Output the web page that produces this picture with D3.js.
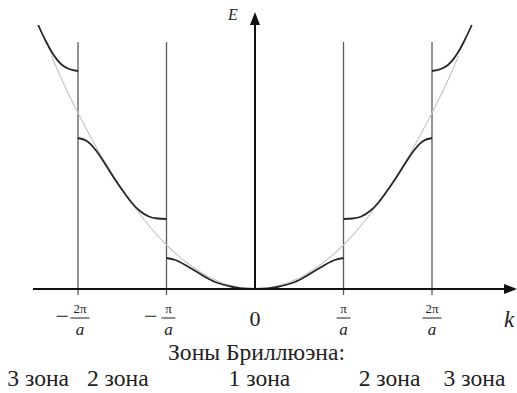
<!DOCTYPE html>
<html>
<head>
<meta charset="utf-8">
<script src="https://cdn.jsdelivr.net/npm/d3@7"></script>
</head>
<body style="margin:0;background:#fff">
<svg id="c" width="517" height="393" style="display:block;font-family:'Liberation Serif', Tinos, serif"></svg>
<script>
// k in units of π/a, E in arbitrary units
const parabK = [0, 0.25, 0.5, 0.75, 1, 1.25, 1.5, 1.75, 2, 2.15, 2.3];
const parabE = [0, 3, 11, 25, 44, 69, 99, 135, 176, 203, 233];

const band1K = [0, 0.15, 0.25, 0.45, 0.5, 0.75, 0.9, 1];
const band1E = [0, 0.5, 2, 7, 9, 22, 29, 31];

const band2K = [1, 1.1, 1.2, 1.3, 1.4, 1.5, 1.6, 1.7, 1.8, 1.9, 2];
const band2E = [70, 70.5, 72.5, 78, 87, 99, 112, 126, 139, 148, 151];

const band3K = [2, 2.1, 2.18, 2.29, 2.37, 2.45];
const band3E = [218, 220, 224, 236, 249, 264];

const zoneLinesK = [-2, -1, 1, 2];
const tickK = [-2, -1, 0, 1, 2];
const tickNum = ["2π", "π", "0", "π", "2π"];
const tickSign = ["−", "−", "", "", ""];

const zoneTitle = "Зоны Бриллюэна:";
const zoneLabels = ["3 зона", "2 зона", "1 зона", "2 зона", "3 зона"];
const zoneLabelK = [-2.45, -1.55, 0.05, 1.52, 2.48];

const svg = d3.select("#c");
svg.append("style").text("text { font-family: 'Liberation Serif', Tinos, serif !important; }");

const x = d3.scaleLinear().domain([-2, 2]).range([78, 432]);
const y = d3.scaleLinear().domain([0, 264]).range([289, 25]);

const line = d3.line().x(d => x(d[0])).y(d => y(d[1])).curve(d3.curveMonotoneX);
const sym = (ks, es) => ks.map((k, i) => [-k, es[i]]).reverse()
  .concat(ks.slice(1).map((k, i) => [k, es[i + 1]]));

// zone boundary lines
svg.selectAll(".zl").data(zoneLinesK).join("line")
  .attr("x1", d => x(d)).attr("x2", d => x(d))
  .attr("y1", 42).attr("y2", 295)
  .attr("stroke", "#5a5a5a").attr("stroke-width", 1.3);

// free electron parabola (gray)
svg.append("path").attr("d", line(sym(parabK, parabE)))
  .attr("fill", "none").attr("stroke", "#c4c4c4").attr("stroke-width", 1.1);

// bands
svg.append("path").attr("d", line(sym(band1K, band1E)))
  .attr("fill", "none").attr("stroke", "#262626").attr("stroke-width", 1.8);
[[band2K, band2E], [band3K, band3E]].forEach(([ks, es]) => {
  const pos = ks.map((k, i) => [k, es[i]]);
  const neg = ks.map((k, i) => [-k, es[i]]).reverse();
  [pos, neg].forEach(pts => {
    svg.append("path").attr("d", line(pts))
      .attr("fill", "none").attr("stroke", "#262626").attr("stroke-width", 1.8);
  });
});

// axes
svg.append("line").attr("x1", 33).attr("x2", 508).attr("y1", y(0)).attr("y2", y(0))
  .attr("stroke", "#111").attr("stroke-width", 2);
svg.append("path").attr("d", `M517,${y(0)} L504,${y(0) - 5} L504,${y(0) + 5} Z`).attr("fill", "#111");
svg.append("line").attr("x1", x(0)).attr("x2", x(0)).attr("y1", y(0)).attr("y2", 22)
  .attr("stroke", "#111").attr("stroke-width", 2);
svg.append("path").attr("d", `M${x(0)},12 L${x(0) - 5},25 L${x(0) + 5},25 Z`).attr("fill", "#111");

// ---- texts
const labels = [];
labels.push({ t: "E", x: 233, y: 20, s: 16, it: true });
labels.push({ t: "k", x: 509, y: 327, s: 23, it: true });
tickK.forEach((k, i) => {
  const cx = x(k) + (k < 0 ? 2 : 0);
  if (k === 0) { labels.push({ t: tickNum[i], x: x(k), y: 326, s: 22 }); return; }
  if (tickSign[i]) labels.push({ t: tickSign[i], x: cx - 11, y: 324, s: 24, a: "end" });
  labels.push({ t: tickNum[i], x: cx, y: 313, s: 13 });
  labels.push({ t: "a", x: cx, y: 335, s: 17, it: true });
});
labels.push({ t: zoneTitle, x: 256.5, y: 360, s: 22, id: "title" });
zoneLabels.forEach((t, i) => labels.push({ t, x: x(zoneLabelK[i]), y: 386, s: 22, id: "zone" }));

svg.selectAll("text.lbl").data(labels).join("text")
  .attr("class", d => "lbl " + (d.id || ""))
  .attr("x", d => d.x).attr("y", d => d.y)
  .attr("text-anchor", d => d.a || "middle")
  .attr("font-size", d => d.s)
  .attr("font-family", "Liberation Serif, Tinos, serif")
  .attr("fill", "#222")
  .style("font-family", "'Liberation Serif', Tinos, serif", "important")
  .style("font-style", d => d.it ? "italic" : "normal")
  .text(d => d.t);

// fraction bars
tickK.forEach((k, i) => {
  if (k === 0) return;
  const cx = x(k) + (k < 0 ? 2 : 0);
  const w = tickNum[i].length > 1 ? 9.5 : 7;
  svg.append("line").attr("x1", cx - w).attr("x2", cx + w).attr("y1", 318).attr("y2", 318)
    .attr("stroke", "#333").attr("stroke-width", 1.1);
});

// fit the Brillouin-zone captions to the reference widths
const title = svg.select("text.title");
const tw = title.node().getComputedTextLength();
const fs = 22 * 177 / tw;
title.attr("font-size", fs);
svg.selectAll("text.zone").attr("font-size", fs);
</script>
</body>
</html>
